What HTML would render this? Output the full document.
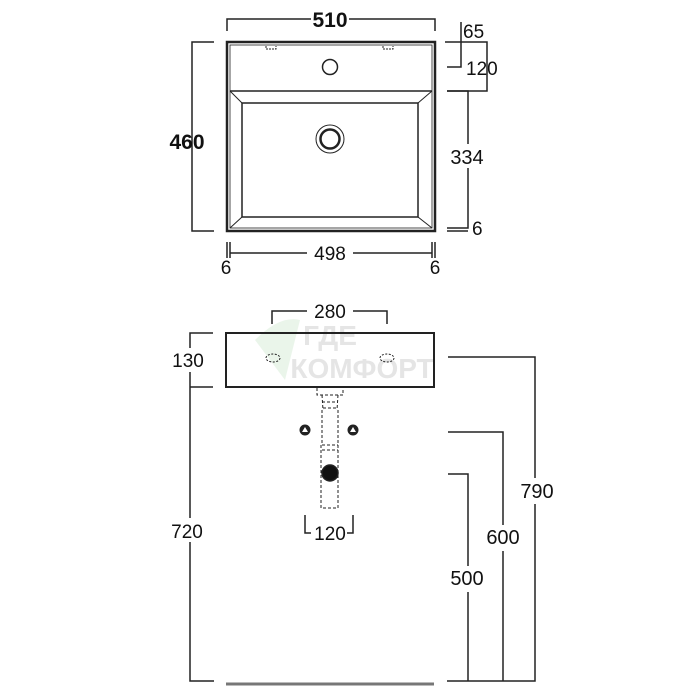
<!DOCTYPE html>
<html><head><meta charset="utf-8"><style>body{margin:0;background:#fff}svg{display:block}</style></head><body>
<svg width="700" height="700" viewBox="0 0 700 700" xmlns="http://www.w3.org/2000/svg" font-family="Liberation Sans, sans-serif" fill="none" stroke="#222" stroke-width="1.5">
<!-- TOP VIEW -->
<rect x="227" y="42" width="208" height="189" stroke-width="2.5"/>
<rect x="230" y="45" width="202" height="183" stroke-width="0.8"/>
<line x1="230" y1="91" x2="432" y2="91"/>
<rect x="242" y="103" width="176" height="114"/>
<line x1="230" y1="91" x2="242" y2="103" stroke-width="1"/>
<line x1="432" y1="91" x2="418" y2="103" stroke-width="1"/>
<line x1="230" y1="228" x2="242" y2="217" stroke-width="1"/>
<line x1="432" y1="228" x2="418" y2="217" stroke-width="1"/>
<circle cx="330" cy="67" r="7.5"/>
<circle cx="330" cy="139" r="14" stroke-width="1"/>
<circle cx="330" cy="139" r="9.5" stroke-width="2.5"/>
<path d="M266 46v3h10v-3M383 46v3h10v-3" stroke-width="1" stroke-dasharray="2 1"/>
<!-- 510 -->
<path d="M227 31V19H311M349 19H435V31"/>
<text x="330" y="27" font-size="21" font-weight="bold" fill="#111" stroke="none" text-anchor="middle">510</text>
<!-- 460 -->
<path d="M214 42H192V231H214"/>
<text x="187" y="149" font-size="21" font-weight="bold" fill="#111" stroke="none" text-anchor="middle">460</text>
<!-- 65 / 120 -->
<path d="M445 42H487V91H447M447 67H461V22"/>
<text x="463" y="38" font-size="19" fill="#111" stroke="none">65</text>
<text x="466" y="75" font-size="19" fill="#111" stroke="none">120</text>
<path d="M447 91H468V228H447M447 231H468"/>
<rect x="445" y="144" width="46" height="24" fill="#fff" stroke="none"/>
<text x="467" y="164" font-size="20" fill="#111" stroke="none" text-anchor="middle">334</text>
<text x="472" y="235" font-size="19" fill="#111" stroke="none">6</text>
<!-- 498 -->
<path d="M227 242V258M230 242V258M432 242V258M435 242V258M230 253H307M353 253H432"/>
<text x="330" y="260" font-size="19" fill="#111" stroke="none" text-anchor="middle">498</text>
<text x="226" y="274" font-size="19" fill="#111" stroke="none" text-anchor="middle">6</text>
<text x="435" y="274" font-size="19" fill="#111" stroke="none" text-anchor="middle">6</text>
<!-- FRONT VIEW -->
<text x="330" y="345" font-size="28" font-weight="bold" fill="#ccc" stroke="none" opacity="0.5" text-anchor="middle">ГДЕ</text>
<text x="362" y="378" font-size="28" font-weight="bold" fill="#ccc" stroke="none" opacity="0.5" text-anchor="middle">КОМФОРТ</text>
<path d="M255 340 Q280 315 300 320 L285 380 Z" fill="#d6ebd6" stroke="none" opacity="0.5"/>
<rect x="226" y="333" width="208" height="54" stroke-width="2"/>
<ellipse cx="273" cy="358" rx="7" ry="4" stroke-width="1" stroke-dasharray="2 1.5"/>
<ellipse cx="387" cy="358" rx="7" ry="4" stroke-width="1" stroke-dasharray="2 1.5"/>
<path d="M272 324V311H307M353 311H387V324"/>
<text x="330" y="318" font-size="19" fill="#111" stroke="none" text-anchor="middle">280</text>
<path d="M213 333H190V681H214M213 387H190"/>
<rect x="172" y="348" width="36" height="24" fill="#fff" stroke="none"/>
<text x="188" y="367" font-size="19" fill="#111" stroke="none" text-anchor="middle">130</text>
<rect x="168" y="518" width="40" height="24" fill="#fff" stroke="none"/>
<text x="187" y="538" font-size="19" fill="#111" stroke="none" text-anchor="middle">720</text>
<!-- siphon -->
<path d="M317 388V395H343V388M322 395L323 410M338 395L337 410M322 402h16M323 408h14M322 410V445M338 410V445M322 445h16M321 445V508H338V445M322 450h16" stroke-width="1" stroke-dasharray="3 2"/>
<circle cx="305" cy="430" r="5" fill="#222" stroke-width="1"/>
<path d="M305 427L302 432H308Z" fill="#fff" stroke="none"/>
<circle cx="353" cy="430" r="5" fill="#222" stroke-width="1"/>
<path d="M353 427L350 432H356Z" fill="#fff" stroke="none"/>
<circle cx="330" cy="473" r="8" fill="#111"/>
<path d="M305 515V533H311M353 515V533H347"/>
<text x="330" y="540" font-size="19" fill="#111" stroke="none" text-anchor="middle">120</text>
<line x1="226" y1="684" x2="434" y2="684" stroke="#777" stroke-width="3"/>
<!-- heights -->
<path d="M448 357H535V681H447M448 432H503V681M448 474H468V681"/>
<rect x="516" y="478" width="42" height="26" fill="#fff" stroke="none"/>
<text x="537" y="498" font-size="20" fill="#111" stroke="none" text-anchor="middle">790</text>
<rect x="482" y="525" width="42" height="26" fill="#fff" stroke="none"/>
<text x="503" y="544" font-size="20" fill="#111" stroke="none" text-anchor="middle">600</text>
<rect x="446" y="566" width="42" height="26" fill="#fff" stroke="none"/>
<text x="467" y="585" font-size="20" fill="#111" stroke="none" text-anchor="middle">500</text>
</svg>
</body></html>
